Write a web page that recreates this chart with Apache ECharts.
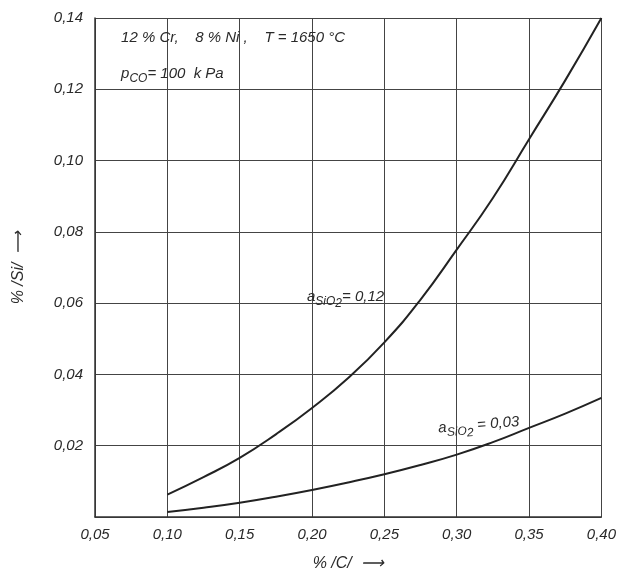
<!DOCTYPE html>
<html>
<head>
<meta charset="utf-8">
<script src="https://cdn.jsdelivr.net/npm/echarts@6/dist/echarts.min.js"></script>
<style>
  html, body { margin: 0; padding: 0; background: #fff; }
  #main { width: 619px; height: 577px; }
</style>
</head>
<body>
<div id="main"></div>
<script>
// values
var carbon = [0.10, 0.125, 0.15, 0.175, 0.20, 0.225, 0.25, 0.275, 0.30, 0.325, 0.35, 0.375, 0.40];
var siHigh = [0.0063, 0.0112, 0.0166, 0.0232, 0.0306, 0.0390, 0.0490, 0.0610, 0.0750, 0.0895, 0.1060, 0.1225, 0.1400];
var siLow  = [0.0014, 0.0026, 0.0040, 0.0057, 0.0076, 0.0097, 0.0120, 0.0146, 0.0175, 0.0210, 0.0250, 0.0290, 0.0334];
var xTicks = ['0,05', '0,10', '0,15', '0,20', '0,25', '0,30', '0,35', '0,40'];
var yTicks = ['', '0,02', '0,04', '0,06', '0,08', '0,10', '0,12', '0,14'];

var font = 'Liberation Sans';
var ink = '#2a2a2a';

function pairs(xs, ys) {
    return xs.map(function (x, i) { return [x, ys[i]]; });
}

var chart = echarts.init(document.getElementById('main'));

var option = {
    backgroundColor: '#fff',
    animation: false,
    grid: { left: 95, right: 16, top: 18, bottom: 60 },
    xAxis: {
        type: 'value',
        min: 0.05, max: 0.40, interval: 0.05,
        name: '% /C/  ⟶',
        nameLocation: 'middle',
        nameGap: 39,
        nameTextStyle: { fontFamily: font, fontStyle: 'italic', fontSize: 16, color: ink },
        axisLine: { show: true, onZero: false, lineStyle: { color: '#333', width: 1.5 } },
        axisTick: { show: false },
        splitLine: { show: true, lineStyle: { color: '#444', width: 1 } },
        axisLabel: {
            margin: 10,
            fontFamily: font, fontStyle: 'italic', fontSize: 15, color: ink,
            formatter: function (v) { return xTicks[Math.round((v - 0.05) / 0.05)]; }
        }
    },
    yAxis: {
        type: 'value',
        min: 0, max: 0.14, interval: 0.02,
        name: '% /Si/  ⟶',
        nameLocation: 'middle',
        nameGap: 68,
        nameTextStyle: { fontFamily: font, fontStyle: 'italic', fontSize: 16, color: ink },
        axisLine: { show: true, lineStyle: { color: '#333', width: 1.5 } },
        axisTick: { show: false },
        splitLine: { show: true, lineStyle: { color: '#444', width: 1 } },
        axisLabel: {
            margin: 12,
            fontFamily: font, fontStyle: 'italic', fontSize: 15, color: ink,
            formatter: function (v) { return yTicks[Math.round(v / 0.02)]; }
        }
    },
    series: [
        {
            name: 'aSiO2 = 0,12',
            type: 'line',
            smooth: true,
            symbol: 'none',
            data: pairs(carbon, siHigh),
            lineStyle: { color: '#222', width: 2 }
        },
        {
            name: 'aSiO2 = 0,03',
            type: 'line',
            smooth: true,
            symbol: 'none',
            data: pairs(carbon, siLow),
            lineStyle: { color: '#222', width: 2 }
        }
    ]
};

chart.setOption(option);

// annotations placed in data coordinates
var txt = { fontFamily: font, fontStyle: 'italic', fontSize: 15, fill: ink };
function at(x, y) { return chart.convertToPixel({ gridIndex: 0 }, [x, y]); }
function richLabel(pos, text, rot) {
    return {
        type: 'text',
        x: pos[0], y: pos[1],
        rotation: rot || 0,
        style: {
            text: text,
            fontFamily: font, fontStyle: 'italic', fontSize: 15, fill: ink,
            rich: {
                s: { fontFamily: font, fontStyle: 'italic', fontSize: 12, fill: ink, padding: [10, 0, 0, 0] },
                t: { fontFamily: font, fontStyle: 'italic', fontSize: 12, fill: ink, padding: [14, 0, 0, 0] }
            }
        }
    };
}

var p1 = at(0.068, 0.1365);
var p2 = at(0.068, 0.1275);
var p3 = at(0.1965, 0.0655);
var p4 = at(0.2865, 0.0285);

chart.setOption({
    graphic: [
        { type: 'text', x: p1[0], y: p1[1],
          style: Object.assign({ text: '12 % Cr,    8 % Ni ,    T = 1650 °C' }, txt) },
        richLabel(p2, 'p{s|CO}= 100  k Pa'),
        richLabel(p3, 'a{s|SiO}{t|2}= 0,12'),
        richLabel(p4, 'a{s|SiO}{t|2} = 0,03', 0.08)
    ]
});
</script>
</body>
</html>
